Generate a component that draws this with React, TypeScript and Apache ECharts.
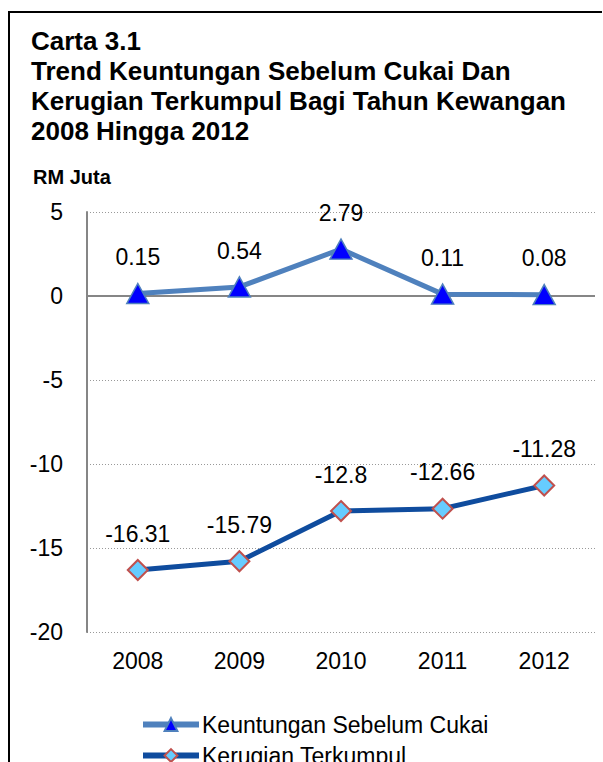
import React, { useEffect, useRef } from "react";
import * as echarts from "echarts";

const years = ["2008", "2009", "2010", "2011", "2012"];
const keuntungan = [0.15, 0.54, 2.79, 0.11, 0.08];
const kerugian = [-16.31, -15.79, -12.8, -12.66, -11.28];
const titleLines = [
  "Carta 3.1",
  "Trend Keuntungan Sebelum Cukai Dan",
  "Kerugian Terkumpul Bagi Tahun Kewangan",
  "2008 Hingga 2012",
];
const unitLabel = "RM Juta";
const seriesNames = ["Keuntungan Sebelum Cukai", "Kerugian Terkumpul"];

const FONT = "'Liberation Sans', Arial, sans-serif";

export default function App() {
  const ref = useRef<HTMLDivElement>(null);
  useEffect(() => {
    if (!ref.current) return;
    const chart = echarts.init(ref.current, undefined, { renderer: "svg" });
    chart.setOption({
      animation: false,
      backgroundColor: "#fff",
      textStyle: { fontFamily: FONT },
      graphic: [
        {
          type: "polyline",
          shape: { points: [[9, 762], [9, 12], [602, 12]] },
          style: { stroke: "#000", lineWidth: 2, fill: "none" },
        },
        {
          type: "text",
          left: 31,
          top: 26,
          style: {
            text: titleLines.join("\n"),
            font: `bold 26px ${FONT}`,
            lineHeight: 30,
            fill: "#000",
          },
        },
        {
          type: "text",
          left: 33,
          top: 167,
          style: { text: unitLabel, font: `bold 20px ${FONT}`, fill: "#000" },
        },
      ],
      grid: { left: 87, right: 8, top: 212, bottom: 130, containLabel: false },
      legend: {
        orient: "vertical",
        left: 135,
        top: 708,
        height: 200,
        itemWidth: 56,
        itemHeight: 16,
        itemGap: 8,
        textStyle: { fontSize: 23, fontFamily: FONT, color: "#000", padding: [0, 0, 0, -2] },
        data: [
          { name: seriesNames[0], lineStyle: { width: 6 } },
          { name: seriesNames[1], lineStyle: { width: 6 } },
        ],
      },
      xAxis: {
        type: "category",
        data: years,
        position: "bottom",
        axisLine: { show: false },
        axisTick: { show: false },
        axisLabel: { fontSize: 23, color: "#000", margin: 17, fontFamily: FONT },
        splitLine: { show: false },
      },
      yAxis: {
        type: "value",
        min: -20,
        max: 5,
        interval: 5,
        axisLine: { show: true, lineStyle: { color: "#868686", width: 2 } },
        axisTick: { show: false },
        axisLabel: { fontSize: 23, color: "#000", margin: 24, fontFamily: FONT },
        splitLine: { show: true, lineStyle: { color: "#999", type: [1, 2], width: 1 } },
      },
      series: [
        {
          name: seriesNames[0],
          type: "line",
          data: keuntungan,
          symbol: "triangle",
          symbolSize: [22, 20],
          lineStyle: { color: "#4F81BD", width: 5 },
          itemStyle: { color: "#0000FF", borderColor: "#4F81BD", borderWidth: 1.5 },
          label: { show: true, position: "top", distance: 14, fontSize: 23, color: "#000", fontFamily: FONT },
          markLine: {
            silent: true,
            symbol: "none",
            label: { show: false },
            lineStyle: { color: "#868686", width: 2, type: "solid" },
            data: [{ yAxis: 0 }],
            z: 1,
          },
          z: 3,
        },
        {
          name: seriesNames[1],
          type: "line",
          data: kerugian,
          symbol: "diamond",
          symbolSize: 20,
          lineStyle: { color: "#0F4C9E", width: 5 },
          itemStyle: { color: "#66CCFF", borderColor: "#C0504D", borderWidth: 2 },
          label: { show: true, position: "top", distance: 14, fontSize: 23, color: "#000", fontFamily: FONT },
          z: 3,
        },
      ],
    });
    return () => chart.dispose();
  }, []);
  return <div ref={ref} style={{ width: 603, height: 762, position: "absolute", left: 0, top: 0 }} />;
}
